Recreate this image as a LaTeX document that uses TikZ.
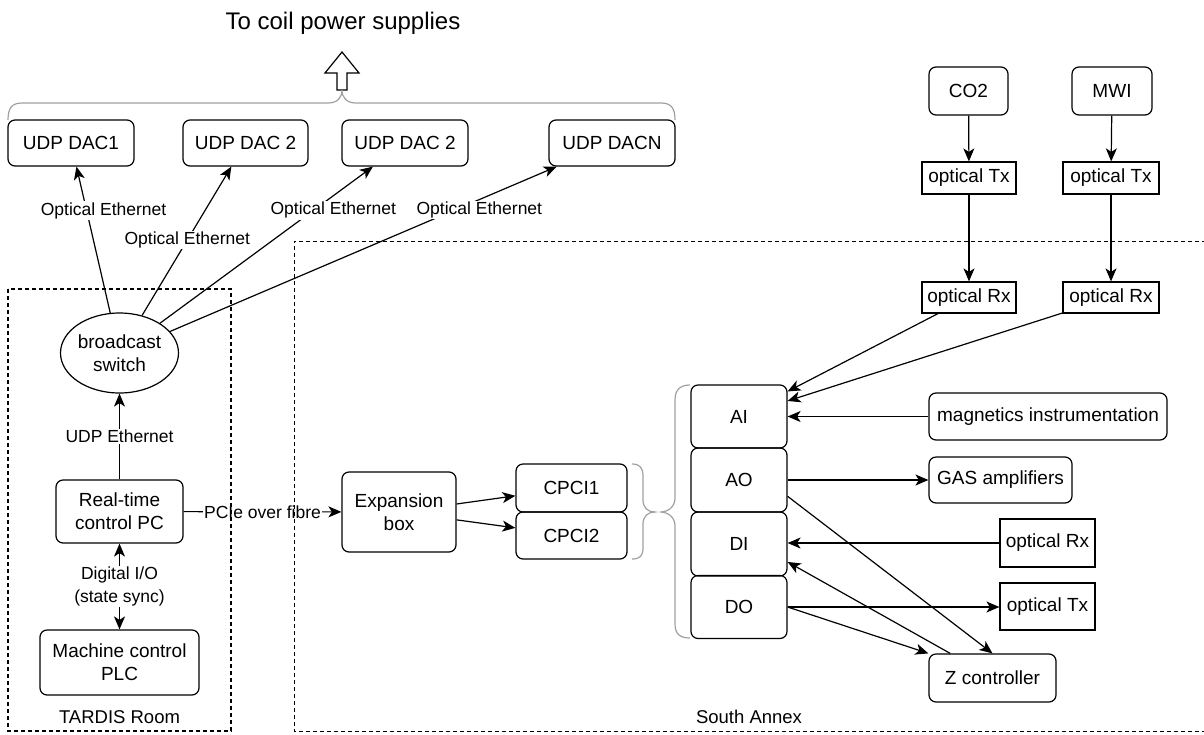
\documentclass[tikz,border=0pt]{standalone}
\usepackage{fontspec}
\setmainfont{Liberation Sans}
\usepackage{tikz}
\usetikzlibrary{arrows.meta,shapes.geometric,calc}
\definecolor{bracegray}{HTML}{A0A0A0}

\begin{document}
\begin{tikzpicture}[x=1pt,y=-1pt,line width=1.2pt,
    box/.style={draw,rounded corners=7pt,inner sep=0pt,align=center,
      font=\fontsize{19}{23}\selectfont},
    sqbox/.style={draw,inner sep=0pt,align=center,
      font=\fontsize{19}{23}\selectfont},
    lbl/.style={fill=white,inner sep=1pt,align=center,
      font=\fontsize{17.5}{23}\selectfont},
    arr/.style={-{Stealth[length=13pt,width=11pt,inset=3.5pt]}},
    arrboth/.style={{Stealth[length=13pt,width=11pt,inset=3.5pt]}-{Stealth[length=13pt,width=11pt,inset=3.5pt]}},
    brace/.style={draw=bracegray,line width=1.2pt},
    frame/.style={dash pattern=on 4pt off 3pt,line width=1pt}]
    \useasboundingbox (0,0) rectangle (1204,734);
    % top
    \node[font=\fontsize{24}{28}\selectfont] (title) at (343,23) {To coil power supplies};
    \draw[fill=white] (342,52) -- (359,73) -- (347,73) -- (347,90) -- (337,90)
      -- (337,73) -- (325,73) -- cycle;
    \draw[brace] (8,120) .. controls (8,108) and (12,103) .. (22,103) -- (328,103)
      .. controls (337,103) and (342,98) .. (342,90) .. controls (342,98) and (347,103) .. (356,103)
      -- (661,103) .. controls (671,103) and (675,108) .. (675,120);
    \node[box,minimum width=126,minimum height=46] (dacA) at (71,143) {UDP DAC1};
    \node[box,minimum width=125,minimum height=46] (dacB) at (245.5,143) {UDP DAC 2};
    \node[box,minimum width=126,minimum height=46] (dacC) at (405,143) {UDP DAC 2};
    \node[box,minimum width=126,minimum height=46] (dacN) at (612,143) {UDP DACN};
    % TARDIS room
    \node[draw,ellipse,inner sep=0pt,minimum width=111,minimum height=80,align=center,
      font=\fontsize{19}{23}\selectfont] (sw) at (119.5,353) {broadcast\\switch};
    \node[box,minimum width=127,minimum height=63] (pc) at (119.5,511.5) {Real-time\\control PC};
    \node[box,minimum width=159,minimum height=65] (plc) at (119.5,662.5) {Machine control\\PLC};
    \draw[arr] (sw) -- node[lbl,pos=0.70,xshift=17] {Optical Ethernet} (dacA);
    \draw[arr] (sw) -- node[lbl,pos=0.507] {Optical Ethernet} (dacB);
    \draw[arr] (sw) -- node[lbl,pos=0.72,xshift=20] {Optical Ethernet} (dacC);
    \draw[arr] (sw) -- node[lbl,pos=0.738,xshift=24] {Optical Ethernet} (dacN);
    \draw[arr] (pc) -- node[lbl] {UDP Ethernet} (sw);
    \draw[arrboth] (pc) -- node[lbl] {Digital I/O\\(state sync)} (plc);
    % south annex
    \node[box,minimum width=114,minimum height=80] (exp) at (399,512) {Expansion\\box};
    \node[box,minimum width=111,minimum height=48] (cpciA) at (571.5,488) {CPCI1};
    \node[box,minimum width=111,minimum height=47] (cpciB) at (571.5,535.5) {CPCI2};
    \draw[arr] (pc) -- node[lbl] {PCIe over fibre} (exp);
    \draw[arr] (exp) -- (cpciA);
    \draw[arr] (exp) -- (cpciB);
    \draw[brace] (632,464) .. controls (640,464) and (643,468) .. (643,476) -- (643,500)
      .. controls (643,508) and (648,512) .. (655,512) .. controls (648,512) and (643,516) .. (643,524)
      -- (643,548) .. controls (643,556) and (640,559) .. (632,559);
    \node[box,minimum width=96,minimum height=63] (ai) at (739,416.5) {AI};
    \node[box,minimum width=96,minimum height=64] (ao) at (739,480) {AO};
    \node[box,minimum width=96,minimum height=64] (din) at (739,544) {DI};
    \node[box,minimum width=96,minimum height=63] (dout) at (739,607) {DO};
    \draw[brace] (690,385) .. controls (680,385) and (675,390) .. (675,400) -- (675,498)
      .. controls (675,507) and (668,512) .. (660,512) .. controls (668,512) and (675,517) .. (675,526)
      -- (675,624) .. controls (675,634) and (680,638) .. (690,638);
    \node[box,minimum width=79,minimum height=48] (co2) at (968.5,91) {CO2};
    \node[box,minimum width=80,minimum height=48] (mwi) at (1112,91) {MWI};
    \node[sqbox,minimum width=94,minimum height=32] (txA) at (969,178) {optical Tx};
    \node[sqbox,minimum width=96,minimum height=32] (txB) at (1111,178) {optical Tx};
    \node[sqbox,minimum width=94,minimum height=31] (rxA) at (969,297.5) {optical Rx};
    \node[sqbox,minimum width=96,minimum height=31] (rxB) at (1111,297.5) {optical Rx};
    \node[box,minimum width=238,minimum height=47] (mag) at (1048,416.5) {magnetics instrumentation};
    \node[box,minimum width=143,minimum height=46] (gas) at (1000.5,480) {GAS amplifiers};
    \node[sqbox,minimum width=95,minimum height=48] (rxC) at (1047.5,543) {optical Rx};
    \node[sqbox,minimum width=95,minimum height=47] (txC) at (1047.5,606.5) {optical Tx};
    \node[box,minimum width=127,minimum height=48] (zc) at (992.5,678) {Z controller};
    \draw[arr] (co2) -- (txA);
    \draw[arr] (mwi) -- (txB);
    \draw[arr] (txA) -- (rxA);
    \draw[arr] (txB) -- (rxB);
    \draw[arr] (rxA) -- (ai);
    \draw[arr] (rxB) -- (ai);
    \draw[arr] (mag) -- (ai);
    \draw[arr] (ao) -- (gas);
    \draw[arr] ($(ao.east)!0.5!(ao.south east)$) -- (zc.north);
    \draw[arr] (rxC.west) -- (rxC.west -| din.east);
    \draw[arr] ($(zc.north west)!0.17!(zc.north east)$) -- ($(din.east)!0.55!(din.south east)$);
    \draw[arr] (dout.east) -- (dout.east -| txC.west);
    \draw[arr] (dout.east) -- (zc.north west);
    % frames
    \draw[frame,line width=1.3pt] (8,289) rectangle (231,731);
    \draw[frame] (1206,241) -| (294,731) -- (1206,731);
    \node[font=\fontsize{18.5}{22}\selectfont] (tardis) at (119.5,717) {TARDIS Room};
    \node[font=\fontsize{18.5}{22}\selectfont] (south) at (749,717) {South Annex};
\end{tikzpicture}
\end{document}
